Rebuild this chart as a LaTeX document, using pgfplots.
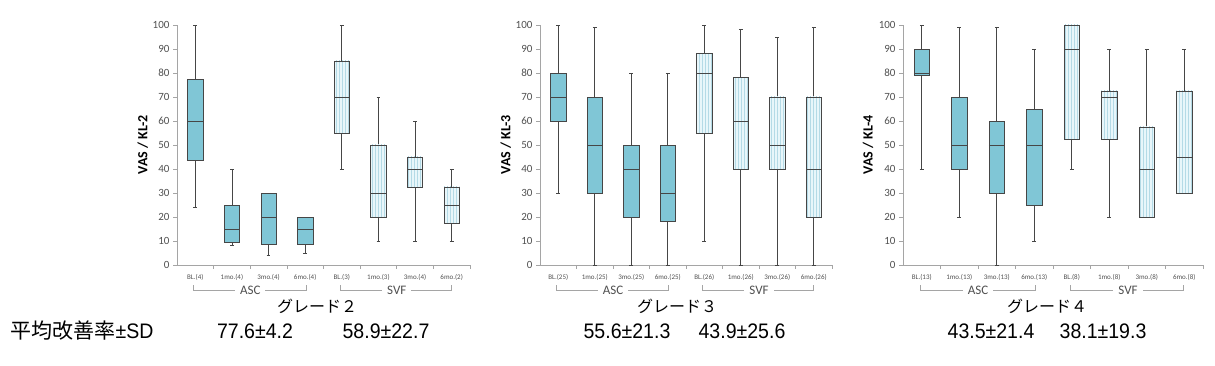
\documentclass[border=0pt]{standalone}
\usepackage{fontspec}
\setmainfont{Carlito}
\newfontfamily\jp{Noto Sans CJK JP}
\newfontfamily\narrow[FakeStretch=0.93]{Liberation Sans}
\usepackage{pgfplots}
\pgfplotsset{compat=1.18}
\usepgfplotslibrary{statistics}
\usetikzlibrary{patterns}
\definecolor{ascfill}{RGB}{128,198,214}
\definecolor{svffill}{RGB}{232,246,250}
\definecolor{svfline}{RGB}{180,218,230}
\definecolor{boxdark}{RGB}{70,70,70}
\definecolor{axisgray}{RGB}{165,165,165}
\definecolor{labgray}{RGB}{80,80,80}
\pgfplotsset{
  panel/.style={
    scale only axis, width=#1, height=240pt, anchor=south west,
    xmin=0.5, xmax=8.5, ymin=0, ymax=100,
    axis x line*=bottom, axis y line*=left,
    axis line style={draw=axisgray, line width=0.6pt},
    ytick={0,10,...,100},
    yticklabel style={font=\fontsize{11}{12}\selectfont, text=labgray},
    /pgf/number format/assume math mode=true,
    ytick style={draw=axisgray, line width=0.6pt},
    tick align=outside, major tick length=4pt,
    xtick={1.5,2.5,...,8.5}, xticklabels={,,,,,,,,},
    x tick style={draw=axisgray, line width=0.6pt},
    extra x ticks={1,2,3,4,5,6,7,8},
    extra x tick style={major tick length=0pt, tick style={draw=none},
      xticklabel style={font=\fontsize{7}{8}\selectfont, text=labgray, yshift=-6pt}},
    clip=false,
    boxplot/draw direction=y,
    boxplot/box extend=0.42,
    boxplot/whisker extend=0.1,
    every axis y label/.style={at={(axis description cs:-0.117,0.5)}, rotate=90, anchor=center,
      font=\bfseries\fontsize{14}{15}\selectfont},
  },
  asc/.style={draw=boxdark, line width=0.7pt,
    boxplot/every box/.style={fill=ascfill}},
  svf/.style={draw=boxdark, line width=0.7pt,
    boxplot/every box/.style={fill=svffill, postaction={pattern=vertical lines, pattern color=svfline}}},
}
\newcommand{\bp}[7]{\addplot[#1, boxplot prepared={draw position=#2, lower whisker=#3, lower quartile=#4, median=#5, upper quartile=#6, upper whisker=#7}] coordinates {};}
\newcommand{\brackets}{%
  \draw[axisgray, line width=0.6pt] (axis cs:0.95,-8.4) -- (axis cs:0.95,-10.4) -- (axis cs:4.02,-10.4) -- (axis cs:4.02,-8.4);
  \draw[axisgray, line width=0.6pt] (axis cs:4.96,-8.4) -- (axis cs:4.96,-10.4) -- (axis cs:7.98,-10.4) -- (axis cs:7.98,-8.4);
  \node[fill=white, inner xsep=5pt, inner ysep=1pt, font=\fontsize{13}{14}\selectfont, text=labgray] at (axis cs:2.5,-10.4) {ASC};
  \node[fill=white, inner xsep=5pt, inner ysep=1pt, font=\fontsize{13}{14}\selectfont, text=labgray] at (axis cs:6.5,-10.4) {SVF};
}
\begin{document}
\begin{tikzpicture}[x=1pt,y=1pt]
\useasboundingbox (0,0) rectangle (1215,366);
% ---------- Grade 2 ----------
\begin{axis}[panel=293pt, at={(177pt,101pt)}, ylabel={VAS / KL-2},
  extra x tick labels={BL.(4),1mo.(4),3mo.(4),6mo.(4),BL.(3),1mo.(3),3mo.(4),6mo.(2)}]
\bp{asc}{1}{24}{43.5}{60}{77.5}{100}
\bp{asc}{2}{8}{9.5}{15}{25}{40}
\bp{asc}{3}{4}{8.5}{20}{30}{30}
\bp{asc}{4}{5}{8.5}{15}{20}{20}
\bp{svf}{5}{40}{55}{70}{85}{100}
\bp{svf}{6}{10}{20}{30}{50}{70}
\bp{svf}{7}{10}{32.5}{40}{45}{60}
\bp{svf}{8}{10}{17.5}{25}{32.5}{40}
\brackets
\end{axis}
% ---------- Grade 3 ----------
\begin{axis}[panel=292pt, at={(540pt,101pt)}, ylabel={VAS / KL-3},
  extra x tick labels={BL.(25),1mo.(25),3mo.(25),6mo.(25),BL.(26),1mo.(26),3mo.(26),6mo.(26)}]
\bp{asc}{1}{30}{60}{70}{80}{100}
\bp{asc}{2}{0}{30}{50}{70}{99}
\bp{asc}{3}{0}{20}{40}{50}{80}
\bp{asc}{4}{0}{18}{30}{50}{80}
\bp{svf}{5}{10}{55}{80}{88}{100}
\bp{svf}{6}{0}{40}{60}{78}{98}
\bp{svf}{7}{0}{40}{50}{70}{95}
\bp{svf}{8}{0}{20}{40}{70}{99}
\brackets
\end{axis}
% ---------- Grade 4 ----------
\begin{axis}[panel=300pt, at={(903pt,101pt)}, ylabel={VAS / KL-4},
  extra x tick labels={BL.(13),1mo.(13),3mo.(13),6mo.(13),BL.(8),1mo.(8),3mo.(8),6mo.(8)}]
\bp{asc}{1}{40}{79}{80}{90}{100}
\bp{asc}{2}{20}{40}{50}{70}{99}
\bp{asc}{3}{0}{30}{50}{60}{99}
\bp{asc}{4}{10}{25}{50}{65}{90}
\bp{svf}{5}{40}{52.5}{90}{100}{100}
\bp{svf}{6}{20}{52.5}{70}{72.5}{90}
\bp{svf}{7}{20}{20}{40}{57.5}{90}
\bp{svf}{8}{30}{30}{45}{72.5}{90}
\brackets
\end{axis}
% ---------- bottom texts ----------
\node[font=\jp\fontsize{16}{17}\selectfont] at (317,60) {グレード２};
\node[font=\jp\fontsize{16}{17}\selectfont] at (677,60) {グレード３};
\node[font=\jp\fontsize{16}{17}\selectfont] at (1047,60) {グレード４};
\node[font=\narrow\fontsize{21}{22}\selectfont] at (82,35) {{\jp 平均改善率}±SD};
\node[font=\narrow\fontsize{21}{22}\selectfont] at (255,35) {77.6±4.2};
\node[font=\narrow\fontsize{21}{22}\selectfont] at (386,35) {58.9±22.7};
\node[font=\narrow\fontsize{21}{22}\selectfont] at (627,35) {55.6±21.3};
\node[font=\narrow\fontsize{21}{22}\selectfont] at (742,35) {43.9±25.6};
\node[font=\narrow\fontsize{21}{22}\selectfont] at (991,35) {43.5±21.4};
\node[font=\narrow\fontsize{21}{22}\selectfont] at (1103,35) {38.1±19.3};
\end{tikzpicture}
\end{document}
